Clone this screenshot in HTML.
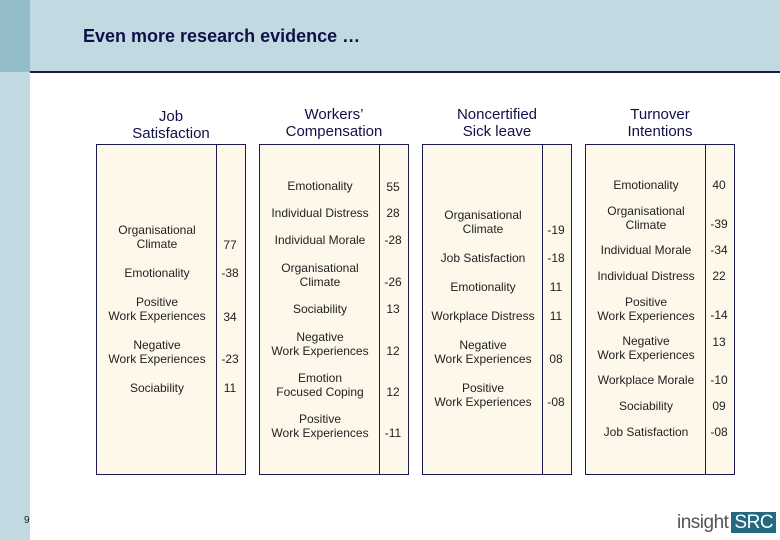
<!DOCTYPE html>
<html><head><meta charset="utf-8"><style>
body{margin:0;width:780px;height:540px;position:relative;overflow:hidden;background:#fff;font-family:"Liberation Sans",Arial,sans-serif}
.a{position:absolute}
.t{position:absolute;font-size:12px;color:#222;text-align:center;line-height:14px;transform:translate(-50%,-50%);white-space:nowrap}
.h{position:absolute;font-size:15px;color:#101048;text-align:center;line-height:17px;transform:translateX(-50%);white-space:nowrap}
.box{position:absolute;top:144px;height:329px;background:#fdf8e9;border:1px solid #1a1a50}
.div{position:absolute;top:0;bottom:0;width:1px;background:#1a1a50}
</style></head><body>
<div class="a" style="left:0;top:0;width:780px;height:72px;background:#c1d9e1"></div>
<div class="a" style="left:0;top:0;width:30px;height:72px;background:#93bdc9"></div>
<div class="a" style="left:0;top:72px;width:30px;height:468px;background:#c1d9e1"></div>
<div class="a" style="left:30px;top:71px;width:750px;height:2px;background:#1a1a50"></div>
<div class="a" style="left:83px;top:26px;font-size:18px;font-weight:bold;color:#101048">Even more research evidence …</div>
<div id="cols"></div>
<div class="a" style="left:24px;top:515px;font-size:10px;color:#222">9</div>
<div class="a" style="left:677px;top:512px;font-size:19px;color:#555;letter-spacing:-0.5px">insight<span style="background:#236a80;color:#fff;padding:0 3px;margin-left:3px">SRC</span></div>
<script>
const headers=[["Job","Satisfaction"],["Workers’","Compensation"],["Noncertified","Sick leave"],["Turnover","Intentions"]];
const boxLeft=[96,259,422,585];
const headerY=[108,106,106,106];
const labels=[
 [["Organisational","Climate"],["Emotionality"],["Positive","Work Experiences"],["Negative","Work Experiences"],["Sociability"]],
 [["Emotionality"],["Individual Distress"],["Individual Morale"],["Organisational","Climate"],["Sociability"],["Negative","Work Experiences"],["Emotion","Focused Coping"],["Positive","Work Experiences"]],
 [["Organisational","Climate"],["Job Satisfaction"],["Emotionality"],["Workplace Distress"],["Negative","Work Experiences"],["Positive","Work Experiences"]],
 [["Emotionality"],["Organisational","Climate"],["Individual Morale"],["Individual Distress"],["Positive","Work Experiences"],["Negative","Work Experiences"],["Workplace Morale"],["Sociability"],["Job Satisfaction"]]
];
const values=[
 ["77","-38","34","-23","11"],
 ["55","28","-28","-26","13","12","12","-11"],
 ["-19","-18","11","11","08","-08"],
 ["40","-39","-34","22","-14","13","-10","09","-08"]
];
const labelY=[
 [237,273,309,352,388],
 [186,213,240,275,309,344,385,426],
 [222,258,287,316,352,395],
 [185,218,250,276,309,348,380,406,432]
];
const valueY=[
 [245,273,317,359,388],
 [187,213,240,282,309,351,392,433],
 [230,258,287,316,359,402],
 [185,224,250,276,315,342,380,406,432]
];
const cols=document.getElementById('cols');
headers.forEach((hd,i)=>{
 const L=boxLeft[i];
 const h=document.createElement('div');h.className='h';
 
 
 h.style.left=(L+75)+'px';h.style.top=headerY[i]+'px';h.innerHTML=hd.join('<br>');cols.appendChild(h);
 const b=document.createElement('div');b.className='box';
 
 
 b.style.left=L+'px';b.style.width='148px';
 const d=document.createElement('div');d.className='div';d.style.left='119px';
 
 
 b.appendChild(d);cols.appendChild(b);
 labels[i].forEach((lb,j)=>{
  const t=document.createElement('div');t.className='t';
  
  
  t.style.left=(L+61)+'px';t.style.top=labelY[i][j]+'px';t.innerHTML=lb.join('<br>');cols.appendChild(t);
  const v=document.createElement('div');v.className='t';
  
  
  v.style.left=(L+134)+'px';v.style.top=valueY[i][j]+'px';v.textContent=values[i][j];cols.appendChild(v);
 });
});
</script>
</body></html>
